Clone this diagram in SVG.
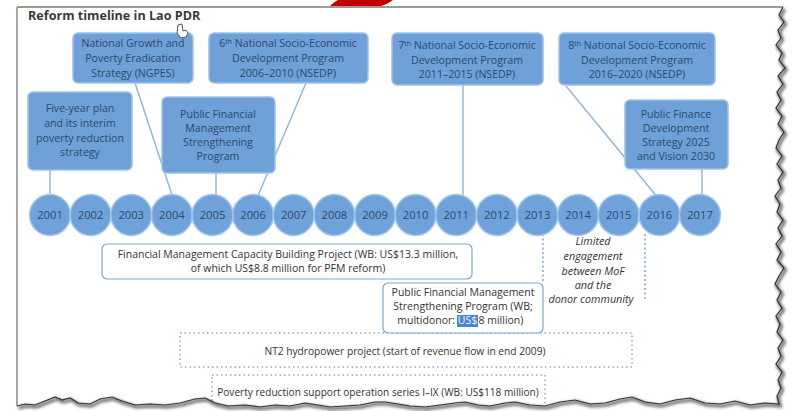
<svg xmlns="http://www.w3.org/2000/svg" width="792" height="411" viewBox="0 0 792 411">
<defs>
<style>
.box{fill:#6fa0d8;stroke:#9cc2ea;stroke-width:1.5}
.bt{font-family:"Open Sans","Noto Sans",sans-serif;font-size:10.6px;fill:#2b4a6e;text-anchor:middle}
.yr{fill:#6fa1da;stroke:#a3c7ec;stroke-width:1.5}
.yt{font-family:"Open Sans","Noto Sans",sans-serif;font-size:11.2px;fill:#2b4a6e;text-anchor:middle}
.con{stroke:#94b6dc;stroke-width:1.5;fill:none}
.wb{fill:#fff;stroke:#7aa4d6;stroke-width:1.2}
.dot{fill:none;stroke:#8aa9cf;stroke-width:1.5;stroke-dasharray:1.5 3}
.dash{stroke:#5b8fd0;stroke-width:1.2;stroke-dasharray:2 2.5;fill:none}
.lt{font-family:"Open Sans","Noto Sans",sans-serif;font-size:10.5px;fill:#333;text-anchor:middle}
.it{font-style:italic;font-size:10.8px}
</style>
<filter id="sh" x="-5%" y="-5%" width="110%" height="110%"><feGaussianBlur stdDeviation="1.5"/></filter>
</defs>
<rect width="792" height="411" fill="#fff"/>
<path d="M330,6 C333,3 336,1 338,0 L393,0 C389,3 385,5 381,6 Z" fill="#c00000"/>
<line x1="17" y1="7" x2="784" y2="7" stroke="#7a7a72" stroke-width="1.5"/>
<line x1="17" y1="7" x2="17" y2="408" stroke="#8a8a8a" stroke-width="1.5"/>
<text x="28" y="20" font-family="'Open Sans','Noto Sans',sans-serif" font-size="12.6" font-weight="bold" fill="#3a3a3a">Reform timeline in Lao PDR</text>

<g id="connectors">
<line class="con" x1="50" y1="170" x2="50" y2="197"/>
<line class="con" x1="135" y1="83" x2="173" y2="198"/>
<line class="con" x1="216" y1="173" x2="216" y2="197"/>
<line class="con" x1="306" y1="83" x2="257" y2="198"/>
<line class="con" x1="463" y1="85" x2="463" y2="197"/>
<line class="con" x1="566" y1="86" x2="658" y2="198"/>
<line class="con" x1="702" y1="169" x2="702" y2="197"/>
<line class="dash" x1="543" y1="234" x2="543" y2="283"/>
<line class="dash" x1="645" y1="234" x2="645" y2="301"/>
</g>

<g id="ngpes"><rect class="box" x="73" y="33" width="120" height="50" rx="5"/>
<text class="bt" x="133" y="47">National Growth and</text><text class="bt" x="133" y="62">Poverty Eradication</text><text class="bt" x="133" y="77">Strategy (NGPES)</text></g>
<g id="nsedp6"><rect class="box" x="209" y="33" width="159" height="50" rx="5"/>
<text class="bt" x="288" y="47">6<tspan font-size="7" dy="-3.5">th</tspan><tspan dy="3.5"> National Socio-Economic</tspan></text><text class="bt" x="288" y="62">Development Program</text><text class="bt" x="288" y="77">2006–2010 (NSEDP)</text></g>
<g id="nsedp7"><rect class="box" x="392" y="33" width="151" height="52" rx="5"/>
<text class="bt" x="467" y="49">7<tspan font-size="7" dy="-3.5">th</tspan><tspan dy="3.5"> National Socio-Economic</tspan></text><text class="bt" x="467" y="64">Development Program</text><text class="bt" x="467" y="78">2011–2015 (NSEDP)</text></g>
<g id="nsedp8"><rect class="box" x="559" y="33" width="156" height="52" rx="5"/>
<text class="bt" x="637" y="49">8<tspan font-size="7" dy="-3.5">th</tspan><tspan dy="3.5"> National Socio-Economic</tspan></text><text class="bt" x="637" y="64">Development Program</text><text class="bt" x="637" y="78">2016–2020 (NSEDP)</text></g>
<g id="fiveyear"><rect class="box" x="28" y="92" width="104" height="78" rx="5"/>
<text class="bt" x="80" y="112">Five-year plan</text><text class="bt" x="80" y="127">and its interim</text><text class="bt" x="80" y="142">poverty reduction</text><text class="bt" x="80" y="156">strategy</text></g>
<g id="pfms"><rect class="box" x="162" y="97" width="113" height="76" rx="5"/>
<text class="bt" x="218" y="118">Public Financial</text><text class="bt" x="218" y="132">Management</text><text class="bt" x="218" y="146">Strengthening</text><text class="bt" x="218" y="160">Program</text></g>
<g id="pfds"><rect class="box" x="625" y="100" width="103" height="69" rx="5"/>
<text class="bt" x="676" y="118">Public Finance</text><text class="bt" x="676" y="132">Development</text><text class="bt" x="676" y="146">Strategy 2025</text><text class="bt" x="676" y="160">and Vision 2030</text></g>

<g id="years">
<circle class="yr" cx="50" cy="215" r="20.5"/><text class="yt" x="50" y="219">2001</text>
<circle class="yr" cx="90.6" cy="215" r="20.5"/><text class="yt" x="90.6" y="219">2002</text>
<circle class="yr" cx="131.2" cy="215" r="20.5"/><text class="yt" x="131.2" y="219">2003</text>
<circle class="yr" cx="171.9" cy="215" r="20.5"/><text class="yt" x="171.9" y="219">2004</text>
<circle class="yr" cx="212.5" cy="215" r="20.5"/><text class="yt" x="212.5" y="219">2005</text>
<circle class="yr" cx="253.1" cy="215" r="20.5"/><text class="yt" x="253.1" y="219">2006</text>
<circle class="yr" cx="293.7" cy="215" r="20.5"/><text class="yt" x="293.7" y="219">2007</text>
<circle class="yr" cx="334.4" cy="215" r="20.5"/><text class="yt" x="334.4" y="219">2008</text>
<circle class="yr" cx="375" cy="215" r="20.5"/><text class="yt" x="375" y="219">2009</text>
<circle class="yr" cx="415.6" cy="215" r="20.5"/><text class="yt" x="415.6" y="219">2010</text>
<circle class="yr" cx="456.2" cy="215" r="20.5"/><text class="yt" x="456.2" y="219">2011</text>
<circle class="yr" cx="496.9" cy="215" r="20.5"/><text class="yt" x="496.9" y="219">2012</text>
<circle class="yr" cx="537.5" cy="215" r="20.5"/><text class="yt" x="537.5" y="219">2013</text>
<circle class="yr" cx="578.1" cy="215" r="20.5"/><text class="yt" x="578.1" y="219">2014</text>
<circle class="yr" cx="618.7" cy="215" r="20.5"/><text class="yt" x="618.7" y="219">2015</text>
<circle class="yr" cx="659.4" cy="215" r="20.5"/><text class="yt" x="659.4" y="219">2016</text>
<circle class="yr" cx="700" cy="215" r="20.5"/><text class="yt" x="700" y="219">2017</text>
</g>

<g id="fmcbp"><rect class="wb" x="102" y="244" width="370" height="35" rx="5"/>
<text class="lt" x="288" y="258">Financial Management Capacity Building Project (WB: US$13.3 million,</text>
<text class="lt" x="288" y="272">of which US$8.8 million for PFM reform)</text></g>

<g id="limited">
<text class="lt it" x="593" y="245">Limited</text><text class="lt it" x="593" y="260">engagement</text><text class="lt it" x="593" y="275">between MoF</text><text class="lt it" x="593" y="289">and the</text><text class="lt it" x="591" y="303">donor community</text></g>

<g id="nt2"><rect class="dot" x="180" y="333" width="452" height="34"/>
<text class="lt" x="405" y="355" style="font-size:10.2px">NT2 hydropower project (start of revenue flow in end 2009)</text></g>

<g id="pfmsp"><rect class="wb" x="383" y="283" width="160" height="50" rx="5"/>
<text class="lt" x="463" y="296">Public Financial Management</text>
<text class="lt" x="463" y="310">Strengthening Program (WB;</text>
<rect x="457" y="315" width="21" height="12" fill="#4a86cf"/>
<text class="lt" x="455" y="324" style="text-anchor:end">multidonor:</text>
<text class="lt" x="467.5" y="324" style="text-anchor:middle;fill:#eef4fb">US$</text>
<text class="lt" x="478.5" y="324" style="text-anchor:start">8 million)</text></g>

<g id="prso"><rect class="dot" x="212" y="375" width="333" height="40"/>
<text class="lt" x="378" y="396" style="font-size:10.1px">Poverty reduction support operation series I–IX (WB: US$118 million)</text></g>

<g id="cursor"><path d="M178,25 L182,24 L183,31 L186,30 L188,33 L186,37 L181,38 L177,33 Z" fill="#fff" stroke="#555" stroke-width="1"/></g>

<g id="torn">
<path d="M17,406 L25,404 L35,405 L45,401 L55,397 L62,400 L70,398 L78,403 L90,404 L100,399 L112,397 L122,401 L135,405 L150,404 L165,405 L180,403 L195,399 L205,398 L215,403 L228,406 L245,405 L260,407 L275,405 L290,406 L305,403 L318,405 L330,407 L345,406 L360,405 L375,402 L385,402 L398,404 L410,406 L425,407 L440,405 L455,403 L465,402 L478,405 L490,406 L505,403 L515,402 L530,405 L545,406 L560,402 L575,400 L590,404 L605,403 L620,399 L632,397 L645,402 L660,404 L675,400 L690,398 L705,403 L720,404 L735,401 L750,405 L765,403 L779,404 L777,396 L781,388 L778,380 L782,372 L776,364 L781,356 L778,348 L783,340 L777,332 L780,324 L776,316 L782,308 L777,300 L781,292 L775,284 L779,276 L784,268 L777,260 L781,252 L776,244 L782,236 L778,228 L783,220 L777,212 L780,204 L775,196 L781,188 L778,180 L783,172 L777,164 L782,156 L776,148 L779,140 L784,132 L778,124 L782,116 L776,108 L781,100 L777,92 L783,84 L778,76 L785,68 L779,60 L782,53 L776,45 L781,38 L778,30 L784,22 L779,15 L783,7 L783,0 L792,0 L792,411 L0,411 L0,406 Z" fill="#fff"/>
<path d="M17,406 L25,404 L35,405 L45,401 L55,397 L62,400 L70,398 L78,403 L90,404 L100,399 L112,397 L122,401 L135,405 L150,404 L165,405 L180,403 L195,399 L205,398 L215,403 L228,406 L245,405 L260,407 L275,405 L290,406 L305,403 L318,405 L330,407 L345,406 L360,405 L375,402 L385,402 L398,404 L410,406 L425,407 L440,405 L455,403 L465,402 L478,405 L490,406 L505,403 L515,402 L530,405 L545,406 L560,402 L575,400 L590,404 L605,403 L620,399 L632,397 L645,402 L660,404 L675,400 L690,398 L705,403 L720,404 L735,401 L750,405 L765,403 L779,404 L777,396 L781,388 L778,380 L782,372 L776,364 L781,356 L778,348 L783,340 L777,332 L780,324 L776,316 L782,308 L777,300 L781,292 L775,284 L779,276 L784,268 L777,260 L781,252 L776,244 L782,236 L778,228 L783,220 L777,212 L780,204 L775,196 L781,188 L778,180 L783,172 L777,164 L782,156 L776,148 L779,140 L784,132 L778,124 L782,116 L776,108 L781,100 L777,92 L783,84 L778,76 L785,68 L779,60 L782,53 L776,45 L781,38 L778,30 L784,22 L779,15 L783,7" fill="none" stroke="#666" stroke-width="3" filter="url(#sh)" transform="translate(1.5,2)"/>
<path d="M17,406 L25,404 L35,405 L45,401 L55,397 L62,400 L70,398 L78,403 L90,404 L100,399 L112,397 L122,401 L135,405 L150,404 L165,405 L180,403 L195,399 L205,398 L215,403 L228,406 L245,405 L260,407 L275,405 L290,406 L305,403 L318,405 L330,407 L345,406 L360,405 L375,402 L385,402 L398,404 L410,406 L425,407 L440,405 L455,403 L465,402 L478,405 L490,406 L505,403 L515,402 L530,405 L545,406 L560,402 L575,400 L590,404 L605,403 L620,399 L632,397 L645,402 L660,404 L675,400 L690,398 L705,403 L720,404 L735,401 L750,405 L765,403 L779,404 L777,396 L781,388 L778,380 L782,372 L776,364 L781,356 L778,348 L783,340 L777,332 L780,324 L776,316 L782,308 L777,300 L781,292 L775,284 L779,276 L784,268 L777,260 L781,252 L776,244 L782,236 L778,228 L783,220 L777,212 L780,204 L775,196 L781,188 L778,180 L783,172 L777,164 L782,156 L776,148 L779,140 L784,132 L778,124 L782,116 L776,108 L781,100 L777,92 L783,84 L778,76 L785,68 L779,60 L782,53 L776,45 L781,38 L778,30 L784,22 L779,15 L783,7" fill="none" stroke="#333" stroke-width="1.2"/>
</g>
</svg>
